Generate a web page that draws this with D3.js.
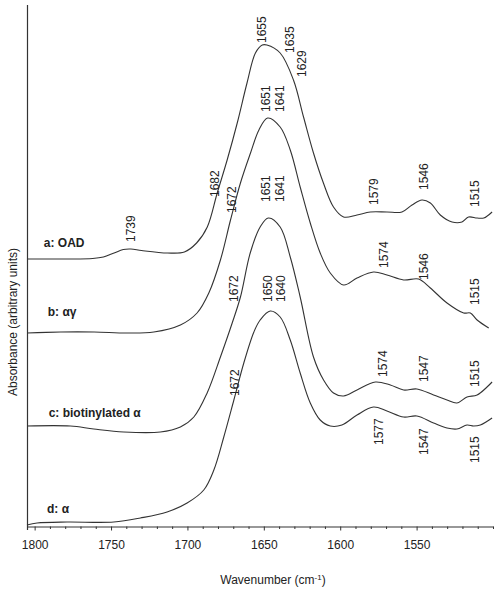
<!DOCTYPE html>
<html><head><meta charset="utf-8">
<script src="https://cdn.jsdelivr.net/npm/d3@7"></script>
<style>body{margin:0;background:#fff}text{font-family:"Liberation Sans",Arial,sans-serif}</style>
</head><body><svg id="c" width="498" height="590"></svg>
<script>
// ---- data ----
const majorTicks = [1800, 1750, 1700, 1650, 1600, 1550];
const tickLabels = ["1800", "1750", "1700", "1650", "1600", "1550"];

const wnA  = [1805,1779,1762,1755,1748,1742,1737,1730,1713,1702,1694,1687,1680.5,1674,1667.4,1661,1655.5,1651,1648,1639.3,1630.6,1624,1617.5,1611,1604.4,1597.8,1589,1580.3,1569.4,1559.6,1553,1546.5,1541,1534.5,1526.8,1520.3,1516,1510.4,1506,1500.6];
const absA = [2.67,2.67,2.675,2.69,2.73,2.765,2.77,2.755,2.73,2.74,2.83,2.99,3.33,3.66,4.03,4.43,4.73,4.81,4.81,4.73,4.46,4.09,3.73,3.43,3.19,3.09,3.11,3.14,3.14,3.14,3.21,3.26,3.23,3.11,3.04,3.04,3.09,3.08,3.08,3.14];

const wnB  = [1805,1783,1761,1739.5,1722,1704.6,1693.7,1686,1678.4,1671.8,1665.3,1658.7,1653.2,1647.5,1639.3,1632.7,1626.2,1619.6,1613.1,1606.5,1597.8,1589,1578.2,1569.4,1558.5,1548.7,1541,1530.1,1519.2,1514.8,1510.4,1502.8];
const absB = [1.93,1.94,1.94,1.93,1.94,2.01,2.13,2.33,2.66,3.06,3.43,3.73,3.96,4.08,3.99,3.76,3.39,3.03,2.73,2.53,2.41,2.48,2.54,2.51,2.46,2.47,2.38,2.23,2.13,2.13,2.06,1.98];

const wnC  = [1805,1776.6,1761.3,1741.7,1717.7,1704.6,1695.8,1687.1,1678.4,1670.7,1665.3,1658.9,1652.4,1647,1639.3,1632.7,1626.2,1617.5,1610.9,1604.4,1597.8,1589,1577,1567.2,1558.5,1549.8,1538.9,1530.1,1523.6,1517,1510.4,1503.9,1500.6];
const absC = [1.00,1.00,0.97,0.94,0.94,0.99,1.09,1.33,1.69,2.03,2.29,2.73,2.99,3.08,2.99,2.69,2.29,1.69,1.46,1.33,1.30,1.36,1.44,1.41,1.36,1.37,1.31,1.26,1.23,1.29,1.31,1.39,1.44];

const wnD  = [1805,1798.4,1778.8,1748.2,1730.8,1713.3,1700.2,1689.3,1682.7,1676.2,1669.6,1663.1,1656.5,1652.4,1645.8,1639.3,1632.7,1626.2,1619.6,1613.1,1606.5,1598.9,1589,1578.2,1569.4,1558.5,1549.8,1538.9,1530.1,1523.6,1517,1512.7,1508.3,1500.6];
const absD = [0.01,0.03,0.04,0.04,0.08,0.14,0.23,0.36,0.56,0.89,1.26,1.63,1.94,2.06,2.15,2.09,1.86,1.53,1.23,1.06,1.00,1.01,1.11,1.19,1.15,1.09,1.10,1.03,0.98,0.97,1.01,1.00,1.01,1.08];

const seriesNames = ["a: OAD", "b: \u03b1\u03b3", "c: biotinylated \u03b1", "d: \u03b1"];
const seriesLabelWn  = [1794, 1791.4, 1790.8, 1791.9];
const seriesLabelAbs = [2.79, 2.10, 1.09, 0.13];

const annText = ["1655","1635","1629","1651","1641","1682","1672","1651","1641","1672","1650","1640","1672","1739","1579","1546","1515","1574","1546","1515","1574","1547","1515","1577","1547","1515"];
const annWn   = [1651.1,1632.7,1625.1,1648.5,1639.3,1681.9,1670.9,1648.5,1639.3,1669.4,1647.6,1638.8,1669.2,1737.3,1578.2,1545.4,1511.6,1571.6,1545.4,1511.6,1572,1545,1511.6,1574.9,1545,1511.6];
const annAbs  = [4.83,4.73,4.49,4.14,4.14,3.29,3.13,3.24,3.24,2.24,2.24,2.24,1.30,2.84,3.21,3.36,3.19,2.58,2.46,2.21,1.49,1.44,1.39,0.81,0.71,0.63];

// ---- chart ----
const svg = d3.select("#c");
const x = d3.scaleLinear().domain([1805, 1500]).range([27, 493]);
const y = d3.scaleLinear().domain([0, 5.21]).range([526, 5]);

const series = [[wnA, absA], [wnB, absB], [wnC, absC], [wnD, absD]];
const line = d3.line().x(d => x(d[0])).y(d => y(d[1])).curve(d3.curveCatmullRom.alpha(0.5));
series.forEach(([w, a]) => {
  svg.append("path")
    .datum(w.map((v, i) => [v, a[i]]))
    .attr("d", line)
    .attr("fill", "none")
    .attr("stroke", "#333")
    .attr("stroke-width", 1.1);
});

// y axis line
svg.append("line").attr("x1", 27.5).attr("x2", 27.5).attr("y1", 5).attr("y2", 530)
  .attr("stroke", "#333").attr("stroke-width", 1.2);

// x axis minor ticks
const minor = d3.range(1800, 1499, -10).filter(v => majorTicks.indexOf(v) < 0);
svg.append("g").attr("transform", "translate(0,526.5)")
  .call(d3.axisBottom(x).tickValues(minor).tickSize(2.5).tickSizeOuter(0).tickFormat(""))
  .call(g => g.select(".domain").remove())
  .call(g => g.selectAll("line").attr("stroke", "#333"));

// x axis major
svg.append("g").attr("transform", "translate(0,526.5)")
  .call(d3.axisBottom(x).tickValues(majorTicks).tickSize(4).tickSizeOuter(0).tickPadding(10)
    .tickFormat((d, i) => tickLabels[i]))
  .call(g => g.select(".domain").attr("stroke", "#333").attr("stroke-width", 1.2))
  .call(g => g.selectAll("line").attr("stroke", "#333"))
  .call(g => g.selectAll("text").attr("font-size", 12).attr("fill", "#222")
    .attr("font-family", "'Liberation Sans', Arial, sans-serif"));

// axis titles
const xt = svg.append("text").attr("x", 273).attr("y", 584).attr("text-anchor", "middle")
  .attr("font-size", 12).attr("fill", "#222");
xt.append("tspan").text("Wavenumber (cm");
xt.append("tspan").attr("font-size", 8).attr("dy", -4).text("-1");
xt.append("tspan").attr("dy", 4).text(")");

svg.append("text").attr("transform", "translate(13,322) rotate(-90)")
  .attr("text-anchor", "middle").attr("dy", "0.35em")
  .attr("font-size", 12).attr("fill", "#222")
  .text("Absorbance (arbitrary units)");

// series labels
seriesNames.forEach((n, i) => {
  svg.append("text").attr("x", x(seriesLabelWn[i])).attr("y", y(seriesLabelAbs[i]))
    .attr("font-size", 12).attr("font-weight", "bold").attr("fill", "#222").text(n);
});

// peak annotations
annText.forEach((t, i) => {
  svg.append("text")
    .attr("transform", `translate(${x(annWn[i])},${y(annAbs[i])}) rotate(-90)`)
    .attr("dy", "0.35em").attr("font-size", 12).attr("fill", "#222").text(t);
});
</script>
</body></html>
